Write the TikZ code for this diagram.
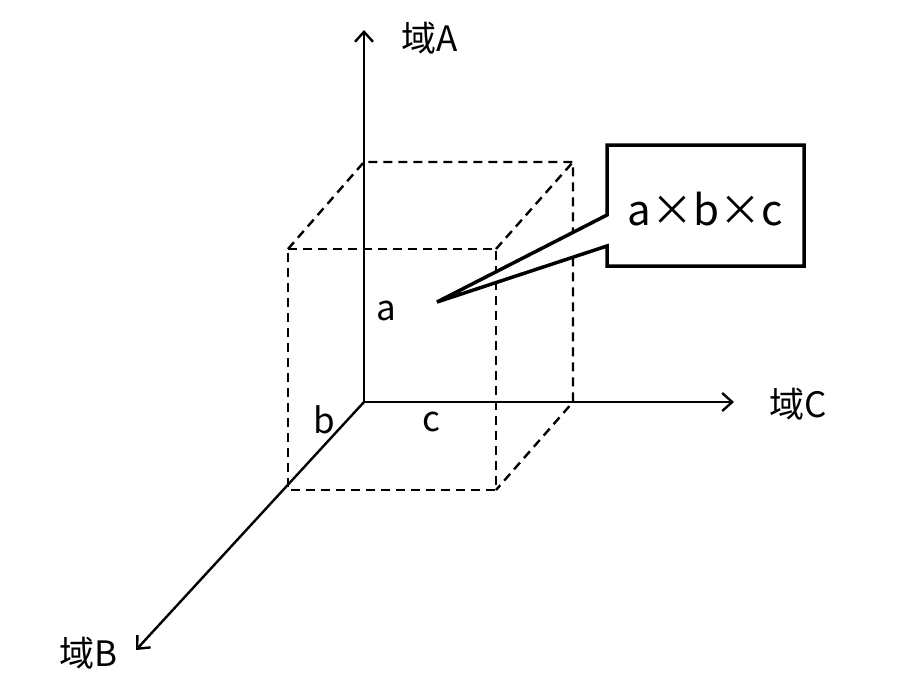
\documentclass[tikz,border=0pt]{standalone}
\usepackage{fontspec}
\setmainfont{Noto Sans CJK SC}
\usetikzlibrary{arrows.meta}
\begin{document}
\begin{tikzpicture}[x=1pt,y=-1pt,
  axis/.style={line width=2.4pt,-{Straight Barb[length=10pt,width=18pt,line width=2.4pt]}},
  edge/.style={line width=2.4pt,dash pattern=on 9pt off 6pt},
  lbl/.style={inner sep=0pt,font=\fontsize{35}{38}\selectfont},
  calloutline/.style={line width=3.5pt,line join=miter}]
\useasboundingbox (0,0) rectangle (898,697);
% cube corners
\coordinate (O) at (364,402);
\coordinate (Atop) at (364,30);
\coordinate (Cend) at (734,402);
\coordinate (Bend) at (136,650);
\coordinate (BT) at (364,162);
\coordinate (BTR) at (573,162);
\coordinate (BBR) at (573,402);
\coordinate (FTL) at (288,249);
\coordinate (FTR) at (496,249);
\coordinate (FBR) at (496,490);
\coordinate (FBL) at (288,490);
% dashed box
\draw[edge] (FTL) -- (FTR) -- (FBR) -- (FBL) -- cycle;
\draw[edge] (FTL) -- (BT) -- (BTR) -- (BBR) -- (FBR);
\draw[edge] (FTR) -- (BTR);
% axes
\draw[axis] (O) -- (Atop);
\draw[axis] (O) -- (Cend);
\draw[axis] (O) -- (Bend);
\node[lbl] (lA) at (430,38) {域A};
\node[lbl] (lC) at (798,404) {域C};
\node[lbl] (lB) at (88,653) {域B};
\node[lbl] (la) at (386,311) {a};
\node[lbl] (lb) at (324,420) {b};
\node[lbl] (lc) at (431,422) {c};
% callout
\coordinate (tip) at (437,302);
\coordinate (g1) at (607,215);
\coordinate (g2) at (607,246);
\draw[calloutline,fill=white] (tip) -- (g1) -- (607,145) -- (804,145) -- (804,266) -- (607,266) -- (g2) -- cycle;
\node[lbl,font=\fontsize{42}{44}\selectfont] (prod) at (705,209) {a×b×c};
\end{tikzpicture}
\end{document}
